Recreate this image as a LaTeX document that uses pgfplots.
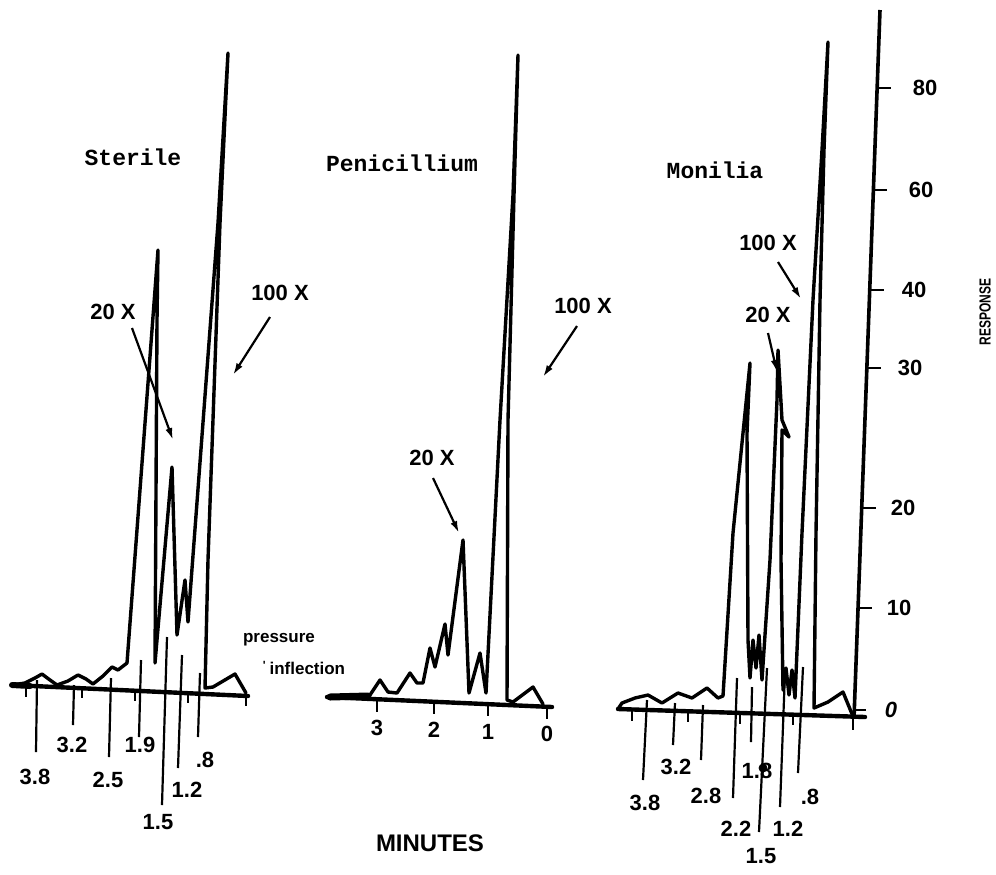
\documentclass[border=0pt]{standalone}
\usepackage{pgfplots}
\pgfplotsset{compat=1.18}
\usepackage{fontspec}
\setmainfont{Liberation Sans}
\newfontfamily\tw{Liberation Mono}
\usetikzlibrary{arrows.meta}
\begin{document}
\begin{tikzpicture}[
  trace/.style={black, line width=1.7pt, line join=round, line cap=round},
  base/.style={black, line width=2.2pt, line cap=round},
  mk/.style={black, line width=1.1pt},
  arr/.style={black, line width=1.1pt, -{Latex[length=6pt,width=3.5pt]}},
  lab/.style={font=\fontsize{11}{12}\selectfont\bfseries, inner sep=0pt},
  ttl/.style={font=\tw\fontsize{11.5}{13}\selectfont\bfseries, inner sep=0pt},
]
\begin{axis}[width=498pt, height=437pt, scale only axis,
  xmin=0, xmax=996, ymin=0, ymax=874, y dir=reverse,
  hide axis, clip=false]
\addplot[draw=none] coordinates {(0,0)(996,874)};

% ===================== STERILE =====================
\addplot[base] coordinates {(12,685)(248,696)};
\addplot[base, line width=3pt] coordinates {(12,685)(30,686)};
\addplot[trace] coordinates {(12,685)(25,683)(35,678)(42,674)(50,680)(57,685)(68,681)(78,675)(86,679)(93,684)(103,676)(112,667)(118,670)(127,663)(158,250)(157,320)(155,663)(172,467)(177,635)(185,580)(188,622)(218,223)(228,53)(220,223)(208,560)(205,688)(213,687)(235,674)(246,693)};
% short minute ticks
\addplot[mk] coordinates {(26,686)(26,697)};
\addplot[mk] coordinates {(82,688)(82,698)};
\addplot[mk] coordinates {(135,691)(135,701)};
\addplot[mk] coordinates {(188,693)(188,703)};
\addplot[mk] coordinates {(246,696)(246,706)};
% retention-time markers
\addplot[mk] coordinates {(37,680)(36,752)};
\addplot[mk] coordinates {(74,685)(73,725)};
\addplot[mk] coordinates {(111,678)(109,757)};
\addplot[mk] coordinates {(141,660)(139,737)};
\addplot[mk] coordinates {(167,637)(162,805)};
\addplot[mk] coordinates {(182,655)(178,768)};
\addplot[mk] coordinates {(200,673)(198,737)};
\node[lab] at (axis cs:35,777) {3.8};
\node[lab] at (axis cs:72,745) {3.2};
\node[lab] at (axis cs:108,780) {2.5};
\node[lab] at (axis cs:140,745) {1.9};
\node[lab] at (axis cs:158,822) {1.5};
\node[lab] at (axis cs:187,790) {1.2};
\node[lab] at (axis cs:205,760) {.8};
\node[ttl] at (axis cs:133,157) {Sterile};
\node[lab] at (axis cs:113,312) {20 X};
\node[lab] at (axis cs:280,293) {100 X};
\addplot[arr] coordinates {(132,328)(173,440)};
\addplot[arr] coordinates {(270,317)(233,375)};
\node[font=\fontsize{8.5}{10}\selectfont\bfseries, inner sep=0pt] at (axis cs:279,640) {pressure};
\node[font=\fontsize{8.5}{10}\selectfont\bfseries, inner sep=0pt] at (axis cs:304,668) {\textsuperscript{\textquotesingle}\,inflection};

% ===================== PENICILLIUM =====================
\addplot[base] coordinates {(327,697)(552,707)};
\addplot[base, line width=3.5pt] coordinates {(330,697)(368,696)};
\addplot[trace] coordinates {(327,697)(370,695)(380,680)(388,692)(397,693)(410,673)(417,683)(423,683)(430,648)(435,667)(445,624)(448,655)(463,540)(469,693)(480,653)(486,693)(500,420)(513,195)(518,55)(514,195)(508,420)(507,700)(513,702)(533,687)(543,704)};
\addplot[mk] coordinates {(377,699)(377,712)};
\addplot[mk] coordinates {(434,702)(434,714)};
\addplot[mk] coordinates {(488,704)(488,716)};
\addplot[mk] coordinates {(547,707)(547,719)};
\node[lab] at (axis cs:377,728) {3};
\node[lab] at (axis cs:434,730) {2};
\node[lab] at (axis cs:488,732) {1};
\node[lab] at (axis cs:547,734) {0};
\node[ttl] at (axis cs:402,163) {Penicillium};
\node[lab] at (axis cs:432,458) {20 X};
\node[lab] at (axis cs:583,306) {100 X};
\addplot[arr] coordinates {(433,478)(459,533)};
\addplot[arr] coordinates {(577,326)(543,377)};

% ===================== MONILIA =====================
\addplot[base] coordinates {(618,709)(865,717)};
\addplot[trace] coordinates {(618,709)(622,703)(635,698)(648,695)(662,703)(678,693)(692,698)(707,688)(718,698)(723,696)(733,533)(750,363)(747,433)(748,640)(750,678)(753,640)(756,668)(759,635)(762,680)(770,560)(777,400)(778,350)(782,420)(789,437)(782,430)(781,560)(783,690)(786,668)(789,695)(792,670)(795,698)(802,533)(813,300)(822,150)(828,42)(824,150)(820,300)(816,533)(814,708)(828,702)(843,692)(852,714)};
\addplot[mk] coordinates {(632,710)(632,721)};
\addplot[mk] coordinates {(688,711)(688,722)};
\addplot[mk] coordinates {(740,713)(740,724)};
\addplot[mk] coordinates {(793,715)(793,725)};
\addplot[mk] coordinates {(853,716)(853,730)};
\addplot[mk] coordinates {(647,700)(643,780)};
\addplot[mk] coordinates {(675,703)(673,745)};
\addplot[mk] coordinates {(703,705)(701,760)};
\addplot[mk] coordinates {(737,678)(733,798)};
\addplot[mk] coordinates {(752,687)(751,742)};
\addplot[mk] coordinates {(767,668)(759,832)};
\addplot[mk] coordinates {(785,672)(780,807)};
\addplot[mk] coordinates {(803,667)(798,773)};
\addplot[only marks, mark=*, mark size=2pt, black] coordinates {(763,768)};
\node[lab] at (axis cs:645,803) {3.8};
\node[lab] at (axis cs:676,767) {3.2};
\node[lab] at (axis cs:706,796) {2.8};
\node[lab] at (axis cs:757,771) {1.8};
\node[lab] at (axis cs:736,829) {2.2};
\node[lab] at (axis cs:788,829) {1.2};
\node[lab] at (axis cs:810,797) {.8};
\node[lab] at (axis cs:761,856) {1.5};
\node[ttl] at (axis cs:715,170) {Monilia};
\node[lab] at (axis cs:768,243) {100 X};
\node[lab] at (axis cs:768,315) {20 X};
\addplot[arr] coordinates {(778,262)(801,299)};
\addplot[arr] coordinates {(768,333)(777,372)};

% ===================== RESPONSE AXIS =====================
\addplot[black, line width=1.8pt] coordinates {(880,10)(854,718)};
\addplot[mk, line width=1.4pt] coordinates {(877,88)(891,88)};
\addplot[mk, line width=1.4pt] coordinates {(873,190)(887,190)};
\addplot[mk, line width=1.4pt] coordinates {(870,290)(884,290)};
\addplot[mk, line width=1.4pt] coordinates {(867,368)(881,368)};
\addplot[mk, line width=1.4pt] coordinates {(862,508)(876,508)};
\addplot[mk, line width=1.4pt] coordinates {(858,608)(872,608)};
\addplot[mk, line width=1.4pt] coordinates {(854,710)(866,710)};
\node[lab] at (axis cs:925,88) {80};
\node[lab] at (axis cs:921,190) {60};
\node[lab] at (axis cs:914,290) {40};
\node[lab] at (axis cs:910,368) {30};
\node[lab] at (axis cs:903,508) {20};
\node[lab] at (axis cs:899,608) {10};
\node[lab] at (axis cs:891,710) {\itshape 0};
\node[font=\fontsize{8}{9}\selectfont\bfseries, inner sep=0pt, rotate=90] at (axis cs:985,312) {\scalebox{0.75}[1]{RESPONSE}};

\node[font=\fontsize{12}{13}\selectfont\bfseries, inner sep=0pt] at (axis cs:430,843) {MINUTES};
\end{axis}
\end{tikzpicture}
\end{document}
